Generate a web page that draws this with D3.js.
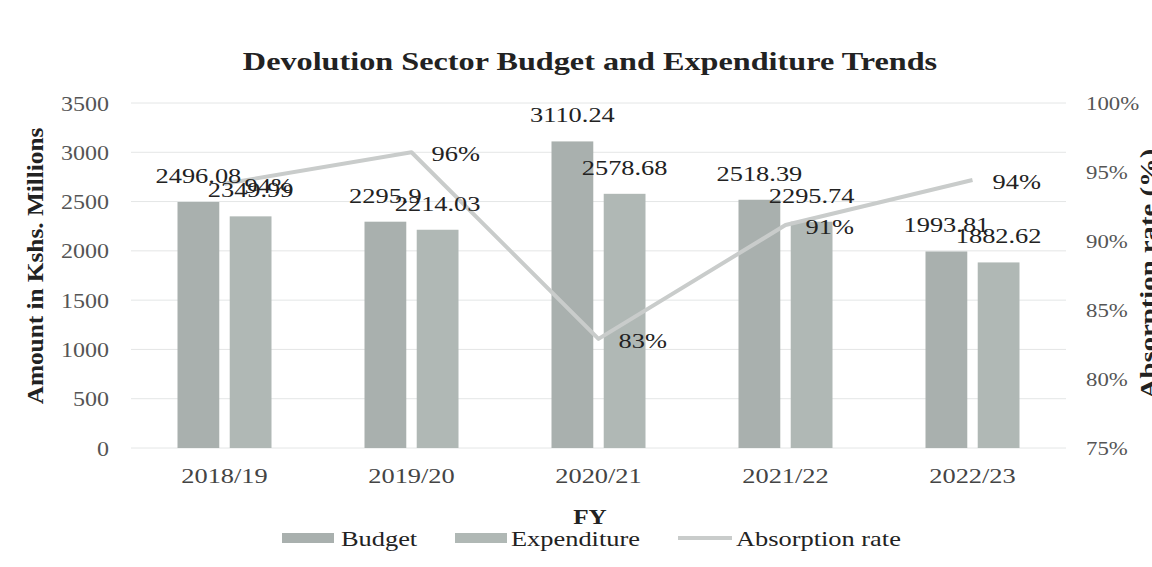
<!DOCTYPE html>
<html>
<head>
<meta charset="utf-8">
<script src="https://cdn.jsdelivr.net/npm/d3@7"></script>
<style>
  body { margin: 0; background: #fff; }
  svg text { font-family: "Liberation Serif", "DejaVu Serif", serif; }
</style>
</head>
<body>
<div id="chart"></div>
<script>
// daten
const years = ["2018/19", "2019/20", "2020/21", "2021/22", "2022/23"];
const budget = [2496.08, 2295.9, 3110.24, 2518.39, 1993.81];
const expenditure = [2349.99, 2214.03, 2578.68, 2295.74, 1882.62];
const absorption = [94.15, 96.43, 82.91, 91.16, 94.42];
const leftTicks = [0, 500, 1000, 1500, 2000, 2500, 3000, 3500];
const rightTicks = [75, 80, 85, 90, 95, 100];

const W = 1152, H = 567;
const plotLeft = 131, plotRight = 1066, plotTop = 103, plotBottom = 448;
const sx = 1.2; // schrift etwas breiter wie im original

const svg = d3.select("#chart").append("svg")
  .attr("width", W)
  .attr("height", H);

const x = d3.scaleBand().domain(years).range([plotLeft, plotRight]);
const x1 = d3.scaleBand().domain(["Budget", "Expenditure"])
  .range([0, 94]).paddingInner(0.2);
const y = d3.scaleLinear().domain([0, 3500]).range([plotBottom, plotTop]);
const y2 = d3.scaleLinear().domain([75, 100]).range([plotBottom, plotTop]);

// text helper mit horizontaler streckung
function label(g, tx, ty, str, size, anchor, weight, fill, rot, scl) {
  return g.append("text")
    .attr("transform", `translate(${tx},${ty})` + (rot ? ` rotate(${rot})` : "") + ` scale(${scl || sx},1)`)
    .attr("text-anchor", anchor)
    .attr("font-size", size)
    .attr("font-weight", weight || "normal")
    .attr("fill", fill || "#222")
    .text(str);
}

// titel
label(svg, 590, 70, "Devolution Sector Budget and Expenditure Trends", 26, "middle", "bold", "#222", 0, 1.24);

// gitternetz
svg.append("g")
  .selectAll("line")
  .data(leftTicks)
  .enter().append("line")
  .attr("x1", plotLeft)
  .attr("x2", plotRight)
  .attr("y1", d => y(d))
  .attr("y2", d => y(d))
  .attr("stroke", "#e4e6e6")
  .attr("stroke-width", 1);

// linke achse
const axL = svg.append("g")
  .attr("transform", `translate(${plotLeft - 22},0)`)
  .call(d3.axisLeft(y).tickValues(leftTicks).tickSize(0).tickPadding(0).tickFormat(d3.format("d")));
axL.select(".domain").remove();
axL.selectAll("text")
  .attr("font-size", 20)
  .attr("fill", "#555")
  .attr("dy", "0.35em")
  .attr("transform", `scale(${sx},1)`)
  .style("font-family", "Liberation Serif");

// rechte achse
const axR = svg.append("g")
  .attr("transform", `translate(${plotRight + 20},0)`)
  .call(d3.axisRight(y2).tickValues(rightTicks).tickSize(0).tickPadding(0)
    .tickFormat(d => d + "%"));
axR.select(".domain").remove();
axR.selectAll("text")
  .attr("font-size", 19)
  .attr("fill", "#555")
  .attr("dy", "0.35em")
  .attr("transform", `scale(${sx},1)`)
  .style("font-family", "Liberation Serif");

// x achse beschriftung
const axB = svg.append("g")
  .attr("transform", `translate(0,${plotBottom + 20})`)
  .call(d3.axisBottom(x).tickSize(0).tickPadding(0));
axB.select(".domain").remove();
axB.selectAll("text")
  .attr("font-size", 22)
  .attr("fill", "#444")
  .attr("dy", "0.7em")
  .attr("transform", `scale(${sx},1)`)
  .style("font-family", "Liberation Serif");

// achsentitel
label(svg, 43, 266, "Amount in Kshs. Millions", 23, "middle", "bold", "#222", -90, 1.1);
label(svg, 1156, 274, "Absorption rate (%)", 23, "middle", "bold", "#222", -90, 1.25);
label(svg, 590, 524, "FY", 21, "middle", "bold", "#222");

// balken
const groups = svg.append("g")
  .selectAll("g")
  .data(years)
  .enter().append("g")
  .attr("transform", d => `translate(${x(d) + (x.bandwidth() - 94) / 2},0)`);

groups.append("rect")
  .attr("x", x1("Budget"))
  .attr("width", x1.bandwidth())
  .attr("y", (d, i) => y(budget[i]))
  .attr("height", (d, i) => plotBottom - y(budget[i]))
  .attr("fill", "#a9b0ae");

groups.append("rect")
  .attr("x", x1("Expenditure"))
  .attr("width", x1.bandwidth())
  .attr("y", (d, i) => y(expenditure[i]))
  .attr("height", (d, i) => plotBottom - y(expenditure[i]))
  .attr("fill", "#b0b8b5");

// absorptionslinie
const line = d3.line()
  .x((d, i) => x(years[i]) + x.bandwidth() / 2)
  .y(d => y2(d));

svg.append("path")
  .datum(absorption)
  .attr("d", line)
  .attr("fill", "none")
  .attr("stroke", "#c9cccb")
  .attr("stroke-width", 4)
  .attr("stroke-linejoin", "round");

// datenbeschriftung
const lbl = svg.append("g");
years.forEach(function(yr, i) {
  const gx = x(yr) + (x.bandwidth() - 94) / 2;
  const bx = gx + x1("Budget") + x1.bandwidth() / 2;
  const ex = gx + x1("Expenditure") + x1.bandwidth() / 2;
  label(lbl, bx, y(budget[i]) - 19, String(budget[i]), 22, "middle");
  label(lbl, ex, y(expenditure[i]) - 19, String(expenditure[i]), 22, "middle");
  const px = x(yr) + x.bandwidth() / 2;
  label(lbl, px + 20, y2(absorption[i]) + 9, Math.round(absorption[i]) + "%", 22, "start");
});

// legende
const leg = svg.append("g");
leg.append("rect").attr("x", 282).attr("y", 533).attr("width", 52).attr("height", 10).attr("fill", "#a9b0ae");
label(leg, 341, 546, "Budget", 22, "start");
leg.append("rect").attr("x", 455).attr("y", 533).attr("width", 52).attr("height", 10).attr("fill", "#b0b8b5");
label(leg, 511, 546, "Expenditure", 22, "start");
leg.append("line").attr("x1", 678).attr("x2", 732).attr("y1", 538).attr("y2", 538)
  .attr("stroke", "#c9cccb").attr("stroke-width", 4);
label(leg, 736, 546, "Absorption rate", 22, "start");
</script>
</body>
</html>
